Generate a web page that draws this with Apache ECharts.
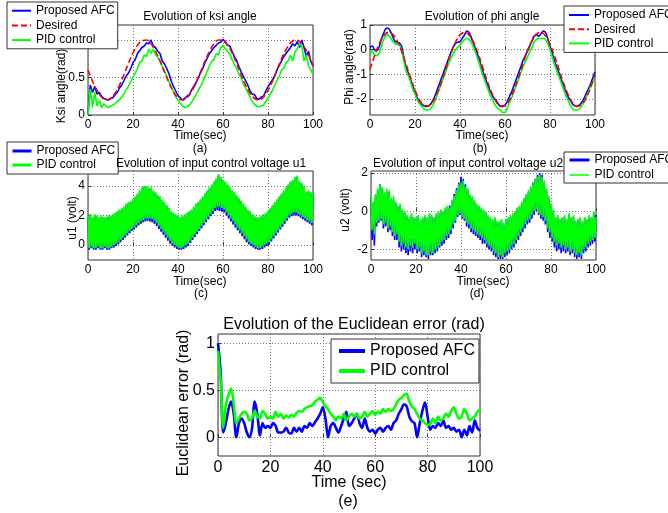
<!DOCTYPE html>
<html><head><meta charset="utf-8">
<script src="https://cdn.jsdelivr.net/npm/echarts@6/dist/echarts.min.js"></script>
<style>html,body{margin:0;padding:0;background:#fff}#c{width:668px;height:513px}</style>
</head><body><div id="c"></div>
<script>
// ---------- data ----------
const xTicks = [0, 20, 40, 60, 80, 100];
// (a) ksi angle, 1 s samples (desired every 2 s)
const ksiDesired = [0.6,0.45,0.33,0.24,0.2,0.22,0.29,0.4,0.54,0.69,0.83,0.93,0.99,1.0,0.95,0.85,0.72,0.57,0.43,0.31,0.23,0.2,0.23,0.31,0.43,0.57,0.72,0.85,0.95,1.0,0.99,0.93,0.83,0.69,0.54,0.4,0.29,0.22,0.2,0.24,0.33,0.45,0.6,0.75,0.87,0.96,1.0,0.98,0.91,0.8,0.66];
const ksiAFC = [0,0.4,0.3,0.38,0.28,0.3,0.25,0.22,0.21,0.2,
0.22,0.23,0.27,0.3,0.36,0.4,0.46,0.52,0.56,0.62,
0.7,0.74,0.82,0.86,0.9,0.92,0.96,0.95,1.0,0.92,
0.9,0.85,0.82,0.72,0.68,0.62,0.55,0.45,0.38,0.32,
0.26,0.23,0.2,0.22,0.25,0.27,0.33,0.38,0.43,0.5,
0.56,0.62,0.7,0.76,0.82,0.86,0.9,0.93,0.96,0.97,
1.01,0.98,0.93,0.92,0.85,0.78,0.73,0.65,0.58,0.52,
0.46,0.4,0.32,0.28,0.27,0.22,0.21,0.24,0.25,0.32,
0.38,0.42,0.47,0.52,0.6,0.66,0.72,0.78,0.82,0.86,
0.9,0.95,0.92,0.98,0.9,1.0,0.9,0.78,0.85,0.72,0.65];
const ksiPID = [0,0.35,0.1,0.3,0.12,0.2,0.1,0.15,0.12,0.1,
0.12,0.13,0.15,0.18,0.2,0.24,0.28,0.34,0.38,0.44,
0.5,0.56,0.62,0.7,0.72,0.8,0.78,0.88,0.82,0.88,
0.8,0.77,0.72,0.65,0.58,0.52,0.44,0.38,0.3,0.24,
0.2,0.16,0.12,0.1,0.11,0.13,0.17,0.22,0.27,0.33,
0.38,0.44,0.52,0.58,0.66,0.72,0.74,0.82,0.8,0.9,
0.93,0.88,0.85,0.82,0.74,0.68,0.62,0.55,0.5,0.42,
0.36,0.3,0.24,0.18,0.14,0.12,0.11,0.12,0.13,0.18,
0.22,0.28,0.33,0.4,0.46,0.52,0.6,0.62,0.7,0.72,
0.8,0.72,0.84,0.88,0.95,0.92,0.72,0.8,0.66,0.6,0.55];
// (b) phi angle
const phiDesired = [-0.8,-0.25,0.22,0.55,0.7,0.63,0.37,-0.05,-0.58,-1.13,-1.64,-2.04,-2.26,-2.28,-2.1,-1.73,-1.24,-0.69,-0.15,0.3,0.6,0.7,0.6,0.3,-0.15,-0.69,-1.24,-1.73,-2.1,-2.28,-2.26,-2.04,-1.64,-1.13,-0.58,-0.05,0.37,0.63,0.7,0.55,0.22,-0.25,-0.8,-1.35,-1.82,-2.15,-2.3,-2.23,-1.97,-1.55,-1.02];
const phiAFC = [0.1,0.15,0.0,-0.05,0.1,0.4,0.65,0.85,0.88,0.75,
0.55,0.35,0.3,0.28,0.15,-0.3,-0.7,-0.95,-1.2,-1.5,
-1.7,-1.95,-2.1,-2.2,-2.28,-2.3,-2.28,-2.2,-2.05,-1.85,
-1.6,-1.35,-1.1,-0.85,-0.6,-0.35,-0.1,0.1,0.25,0.3,
0.32,0.45,0.6,0.75,0.7,0.5,0.25,0.0,-0.25,-0.55,
-0.85,-1.1,-1.35,-1.6,-1.8,-1.95,-2.05,-2.2,-2.3,-2.3,
-2.25,-2.1,-1.9,-1.7,-1.45,-1.2,-0.95,-0.7,-0.45,-0.25,
-0.05,0.15,0.35,0.55,0.6,0.55,0.65,0.75,0.7,0.45,
0.15,-0.15,-0.45,-0.7,-0.95,-1.2,-1.45,-1.7,-1.9,-2.05,
-2.2,-2.27,-2.3,-2.25,-2.15,-2.0,-1.8,-1.6,-1.4,-1.15,-0.9];
const phiPID = [-0.2,-0.05,-0.2,-0.25,-0.15,0.1,0.4,0.55,0.6,0.5,
0.35,0.25,0.22,0.2,0.0,-0.45,-0.85,-1.05,-1.3,-1.6,
-1.8,-2.05,-2.2,-2.3,-2.4,-2.45,-2.45,-2.38,-2.25,-2.05,
-1.8,-1.55,-1.3,-1.05,-0.8,-0.55,-0.35,-0.15,0.0,0.1,
0.2,0.3,0.4,0.45,0.42,0.3,0.1,-0.15,-0.4,-0.7,
-1.0,-1.25,-1.5,-1.75,-1.95,-2.15,-2.3,-2.4,-2.45,-2.55,
-2.55,-2.35,-2.15,-1.95,-1.7,-1.45,-1.2,-0.95,-0.7,-0.5,
-0.3,-0.1,0.1,0.3,0.42,0.45,0.45,0.45,0.4,0.25,
0.0,-0.3,-0.6,-0.85,-1.1,-1.35,-1.6,-1.85,-2.05,-2.25,
-2.4,-2.45,-2.45,-2.4,-2.3,-2.15,-1.95,-1.75,-1.5,-1.3,-1.1];
// (c) u1: oscillation peaks at t = 0,1,...,100 and troughs at t = 0.5,...,99.5
const u1PIDPeaks = [2.0,2.1,1.9,2.1,2.0,1.9,2.0,1.9,1.9,2.0,
2.0,2.1,2.2,2.3,2.4,2.5,2.6,2.8,2.9,3.0,
3.1,3.3,3.5,3.7,3.9,4.0,4.0,3.9,3.9,3.7,
3.6,3.4,3.3,3.1,2.9,2.7,2.5,2.3,2.2,2.1,
2.0,1.9,2.0,2.1,2.2,2.3,2.4,2.6,2.8,2.9,
3.1,3.3,3.5,3.7,3.9,4.1,4.3,4.5,4.8,4.6,
4.4,4.3,4.1,3.9,3.7,3.6,3.4,3.2,3.0,2.8,
2.6,2.4,2.3,2.1,2.0,1.9,1.9,2.0,2.1,2.2,
2.3,2.5,2.7,2.9,3.1,3.3,3.5,3.7,3.9,4.1,
4.3,4.4,4.6,4.7,4.3,4.2,4.0,3.6,3.7,3.6,3.5];
const u1PIDTroughs = [-0.2,-0.1,-0.2,-0.2,-0.1,-0.2,-0.2,-0.1,-0.2,-0.2,
-0.1,0.0,0.1,0.2,0.35,0.5,0.65,0.8,0.95,1.1,
1.2,1.35,1.5,1.6,1.7,1.8,1.8,1.8,1.75,1.65,
1.5,1.3,1.1,0.9,0.7,0.5,0.3,0.1,0.0,-0.1,
-0.2,-0.2,-0.1,0.0,0.1,0.3,0.5,0.7,0.9,1.1,
1.3,1.5,1.7,1.9,2.1,2.3,2.5,2.6,2.6,2.5,
2.4,2.2,2.0,1.8,1.6,1.4,1.2,1.0,0.8,0.6,
0.4,0.2,0.1,0.0,-0.1,-0.2,-0.2,-0.1,0.0,0.1,
0.2,0.4,0.6,0.8,1.0,1.2,1.4,1.6,1.8,2.0,
2.1,2.2,2.2,2.1,2.0,1.9,1.8,1.7,1.6,1.5];
const u1AFCPeaks = [1.9,2.0,1.8,2.0,1.9,1.8,1.9,1.8,1.8,1.9,
1.9,2.0,2.1,2.2,2.3,2.4,2.5,2.7,2.8,2.9,
3.0,3.2,3.4,3.6,3.8,3.9,3.9,3.8,3.8,3.6,
3.5,3.3,3.2,3.0,2.8,2.6,2.4,2.2,2.1,2.0,
1.9,1.8,1.9,2.0,2.1,2.2,2.3,2.5,2.7,2.8,
3.0,3.2,3.4,3.6,3.8,4.0,4.2,4.4,4.7,4.5,
4.3,4.2,4.0,3.8,3.6,3.5,3.3,3.1,2.9,2.7,
2.5,2.3,2.2,2.0,1.9,1.8,1.8,1.9,2.0,2.1,
2.2,2.4,2.6,2.8,3.0,3.2,3.4,3.6,3.8,4.0,
4.2,4.3,4.5,4.6,4.2,4.1,3.9,3.5,3.6,3.5,3.4];
const u1AFCTroughs = [-0.3,-0.2,-0.3,-0.3,-0.2,-0.3,-0.3,-0.2,-0.3,-0.3,
-0.2,-0.15,-0.05,0.05,0.2,0.35,0.5,0.65,0.8,0.95,
1.05,1.2,1.35,1.45,1.55,1.6,1.65,1.6,1.55,1.45,
1.3,1.1,0.9,0.7,0.5,0.3,0.1,-0.05,-0.15,-0.25,
-0.3,-0.3,-0.25,-0.15,-0.05,0.15,0.35,0.55,0.75,0.95,
1.15,1.35,1.55,1.75,1.95,2.1,2.3,2.35,2.3,2.25,
2.2,2.0,1.8,1.6,1.4,1.2,1.0,0.8,0.6,0.4,
0.2,0.05,-0.05,-0.15,-0.25,-0.3,-0.3,-0.25,-0.15,-0.05,
0.05,0.25,0.45,0.65,0.85,1.05,1.25,1.45,1.65,1.85,
1.95,2.0,2.0,1.95,1.85,1.75,1.65,1.55,1.45,1.35];
// (d) u2
const u2PIDPeaks = [0.8,0.5,0.9,1.2,1.4,1.3,1.0,1.2,1.1,0.7,
0.8,0.5,0.3,0.4,0.1,0.0,-0.2,-0.3,-0.1,-0.3,
-0.3,-0.2,-0.4,-0.3,-0.2,-0.3,-0.1,-0.2,-0.3,-0.1,
0.0,0.1,0.0,0.2,0.3,0.2,0.6,0.8,1.1,1.4,
1.5,1.6,1.3,1.2,0.9,0.8,0.6,0.4,0.3,0.2,
0.1,0.0,-0.2,-0.3,-0.4,-0.3,-0.5,-0.5,-0.4,-0.6,
-0.4,-0.3,-0.2,-0.1,0.0,0.2,0.3,0.5,0.7,0.9,
1.1,1.3,1.5,1.7,1.8,1.9,1.8,1.6,1.2,0.8,
0.4,0.1,-0.3,-0.2,-0.4,-0.3,-0.2,-0.4,-0.1,-0.3,
-0.2,-0.5,-0.4,-0.3,-0.5,-0.3,-0.4,-0.2,-0.3,0.0,-0.3];
const u2PIDTroughs = [-1.0,-1.2,-0.6,-0.5,-0.4,-0.7,-0.6,-0.9,-0.8,-1.1,
-1.3,-1.2,-1.6,-1.8,-1.7,-1.9,-2.0,-1.8,-1.9,-1.7,
-2.0,-1.9,-2.2,-2.1,-2.3,-2.3,-2.1,-2.2,-2.0,-1.9,
-1.8,-1.6,-1.5,-1.3,-1.2,-1.0,-0.7,-0.5,-0.2,-0.1,
-0.3,-0.4,-0.6,-0.7,-0.9,-1.0,-1.1,-1.2,-1.3,-1.4,
-1.5,-1.7,-1.8,-1.9,-2.1,-2.2,-2.4,-2.3,-2.4,-2.2,
-2.1,-2.0,-1.8,-1.7,-1.5,-1.3,-1.1,-0.9,-0.7,-0.5,
-0.4,-0.2,0.0,0.1,-0.1,-0.2,-0.3,-0.5,-0.9,-1.1,
-1.4,-1.6,-1.8,-1.7,-1.9,-1.8,-2.0,-1.9,-2.1,-2.0,
-2.2,-2.3,-2.2,-2.3,-2.0,-1.9,-1.7,-1.6,-1.5,-1.4];
const u2AFCPeaks = [0.7,0.4,0.8,1.1,1.4,1.2,0.9,1.0,1.0,0.6,
0.6,0.4,0.2,0.3,0.0,-0.1,-0.3,-0.4,-0.2,-0.4,
-0.4,-0.3,-0.5,-0.4,-0.3,-0.4,-0.2,-0.3,-0.4,-0.2,
-0.1,0.0,-0.1,0.1,0.2,0.3,0.5,0.9,1.2,1.5,
1.8,1.7,1.4,1.1,0.8,0.7,0.5,0.3,0.2,0.1,
0.0,-0.1,-0.3,-0.4,-0.5,-0.4,-0.6,-0.6,-0.5,-0.7,
-0.5,-0.4,-0.3,-0.2,-0.1,0.1,0.2,0.4,0.6,0.8,
1.0,1.2,1.5,1.7,1.9,2.0,1.9,1.5,1.1,0.7,
0.3,0.0,-0.4,-0.3,-0.5,-0.4,-0.3,-0.5,-0.2,-0.4,
-0.3,-0.6,-0.5,-0.4,-0.6,-0.4,-0.5,-0.3,-0.4,-0.1,-0.2];
const u2AFCTroughs = [-1.5,-1.8,-0.8,-0.6,-0.5,-0.9,-0.8,-1.1,-1.0,-1.3,
-1.5,-1.5,-1.9,-2.1,-2.0,-2.2,-2.3,-2.1,-2.2,-2.0,
-2.2,-2.1,-2.4,-2.3,-2.4,-2.5,-2.3,-2.3,-2.2,-2.1,
-1.9,-1.8,-1.7,-1.5,-1.4,-1.2,-0.9,-0.6,-0.3,-0.2,
-0.4,-0.5,-0.8,-0.9,-1.1,-1.2,-1.3,-1.4,-1.5,-1.7,
-1.7,-1.9,-2.0,-2.1,-2.3,-2.4,-2.5,-2.5,-2.5,-2.4,
-2.3,-2.2,-2.0,-1.9,-1.7,-1.5,-1.3,-1.1,-0.9,-0.7,
-0.6,-0.4,-0.2,0.0,-0.2,-0.4,-0.5,-0.7,-1.1,-1.4,
-1.6,-1.9,-2.1,-2.0,-2.2,-2.1,-2.2,-2.1,-2.3,-2.2,
-2.4,-2.5,-2.4,-2.5,-2.2,-2.1,-1.9,-1.8,-1.7,-1.6];
// (e) Euclidean error
const errAFC = [1.0,0.7,0.05,0.15,0.3,0.38,0.25,0.0,0.15,0.2,
0.15,0.05,0.0,0.1,0.38,0.25,0.02,0.15,0.1,0.12,
0.1,0.15,0.12,0.05,0.05,0.06,0.1,0.05,0.04,0.1,
0.06,0.1,0.06,0.12,0.1,0.15,0.12,0.16,0.2,0.25,
0.32,0.2,0.0,0.12,0.15,0.1,0.05,0.12,0.2,0.27,
0.12,0.15,0.2,0.25,0.15,0.1,0.2,0.1,0.06,0.08,
0.04,0.08,0.1,0.06,0.1,0.12,0.08,0.15,0.18,0.25,
0.3,0.35,0.33,0.22,0.17,0.15,0.0,0.15,0.28,0.37,
0.22,0.08,0.12,0.1,0.15,0.12,0.18,0.1,0.12,0.08,
0.1,0.06,0.08,0.0,0.08,0.02,0.12,0.05,0.18,0.1,0.07];
const errPID = [0.92,0.6,0.1,0.35,0.45,0.52,0.35,0.15,0.2,0.25,
0.27,0.25,0.18,0.2,0.28,0.22,0.2,0.28,0.25,0.2,
0.22,0.2,0.27,0.22,0.25,0.2,0.23,0.21,0.24,0.22,
0.26,0.28,0.27,0.3,0.32,0.33,0.34,0.38,0.4,0.42,
0.38,0.33,0.3,0.25,0.22,0.18,0.22,0.2,0.25,0.18,
0.22,0.25,0.22,0.25,0.2,0.22,0.27,0.22,0.25,0.28,
0.24,0.27,0.25,0.3,0.27,0.3,0.28,0.3,0.35,0.4,
0.42,0.45,0.46,0.38,0.33,0.3,0.25,0.2,0.18,0.15,
0.13,0.14,0.2,0.15,0.22,0.18,0.2,0.25,0.22,0.28,
0.32,0.25,0.2,0.22,0.3,0.25,0.18,0.2,0.22,0.27,0.3];

// ---------- helpers ----------
const FF = "'Liberation Sans', Arial, Helvetica, sans-serif";
const BLUE = '#0000ff', GREEN = '#00ff00', RED = '#ff0000', FRAME = '#333333';
const xy = (vals, step) => vals.map((v, i) => [i * step, v]);
const zig = (peaks, troughs) => {
  const out = [];
  peaks.forEach((p, i) => { out.push([i, p]); if (i < troughs.length) out.push([i + 0.5, troughs[i]]); });
  return out;
};
const grids = [
  {left: 88, top: 25, width: 225, height: 90},
  {left: 370, top: 25, width: 225, height: 90},
  {left: 88, top: 171, width: 225, height: 89},
  {left: 371, top: 171, width: 225, height: 89},
  {left: 218, top: 334, width: 262, height: 122}
].map(g => Object.assign({show: true, borderColor: FRAME, borderWidth: 1, backgroundColor: 'rgba(0,0,0,0)', containLabel: false, outerBoundsMode: 'none'}, g));

const split = {show: true, lineStyle: {type: [1, 2], color: '#777', width: 1}};
function xAx(gi, fs) {
  return {type: 'value', gridIndex: gi, min: 0, max: 100, interval: 20,
    axisLine: {show: false}, axisTick: {show: true, inside: true, length: 3, lineStyle: {color: FRAME}},
    axisLabel: {fontSize: fs, color: '#000', fontFamily: FF, margin: 4},
    splitLine: split};
}
function yAx(gi, min, max, ticks, fs) {
  return {type: 'value', gridIndex: gi, min: min, max: max,
    axisLine: {show: false}, axisTick: {show: true, inside: true, length: 3, customValues: ticks, lineStyle: {color: FRAME}},
    axisLabel: {fontSize: fs, color: '#000', fontFamily: FF, margin: 3, customValues: ticks},
    splitLine: split};
}
function ln(name, data, gi, color, width, dash, smooth) {
  return {type: 'line', name: name, data: data, xAxisIndex: gi, yAxisIndex: gi, symbol: 'none',
    smooth: smooth || false, animation: false, clip: true,
    itemStyle: {color: color},
    lineStyle: {color: color, width: width, type: dash || 'solid'}};
}
const txt = (s, x, y, fs, rot) => ({type: 'text', x: x, y: y, rotation: rot || 0, silent: true,
  style: {text: s, fill: '#000', fontSize: fs, fontFamily: FF, align: 'center', verticalAlign: 'middle', textAlign: 'center', textVerticalAlign: 'middle'}});
const ttl = (s, cx, top, fs) => ({text: s, left: cx, top: top, textAlign: 'center', padding: 0,
  textStyle: {fontSize: fs, fontWeight: 'normal', color: '#000', fontFamily: FF}});
const lgd = (names, left, top, pad, gap, iw, ih, fs, widths) => ({
  orient: 'vertical', left: left, top: top, padding: pad, itemGap: gap, itemWidth: iw, itemHeight: ih,
  backgroundColor: '#fff', borderColor: FRAME, borderWidth: 1, borderRadius: 0, selectedMode: false,
  itemStyle: {opacity: 0, borderWidth: 0},
  textStyle: {fontSize: fs, color: '#000', fontFamily: FF, lineHeight: ih},
  data: names.map((n, i) => ({name: n, lineStyle: {width: widths[i]}, itemStyle: {opacity: 0, borderWidth: 0}}))
});

const option = {
  animation: false,
  backgroundColor: '#fff',
  title: [
    ttl('Evolution of ksi angle', 200, 11, 12),
    ttl('Evolution of phi angle', 482, 11, 12),
    ttl('Evolution of input control voltage u1', 211, 158, 12),
    ttl('Evolution of input control voltage u2', 468, 158, 12),
    ttl('Evolution of the Euclidean error (rad)', 354, 317, 16)
  ],
  legend: [
    lgd(['Proposed AFC', 'Desired', 'PID control'], 7, 2, [2.7, 3, 2.7, 4], 2.7, 19, 12, 12, [2, 2, 2]),
    lgd(['Proposed AFC', 'Desired', 'PID control'], 564, 6, [3, 3, 3, 4], 2.2, 20, 12, 12, [2, 2, 2]),
    lgd(['Proposed AFC', 'PID control'], 7, 142, [3, 3, 3, 4], 2, 19, 12, 12, [3, 3]),
    lgd(['Proposed AFC', 'PID control'], 564, 152, [2, 3, 2, 4], 3, 20, 12, 12, [3, 1.5]),
    lgd(['Proposed AFC', 'PID control'], 331, 339, [4, 4, 4, 6], 4, 26, 16, 16, [4, 4])
  ],
  grid: grids,
  xAxis: [xAx(0, 12), xAx(1, 12), xAx(2, 12), xAx(3, 12), xAx(4, 16)],
  yAxis: [
    yAx(0, 0, 1.2, [0, 0.5, 1], 12),
    yAx(1, -2.65, 1, [-2, -1, 0, 1], 12),
    yAx(2, -1, 5, [0, 2, 4], 12),
    yAx(3, -2.55, 2.1, [-2, 0, 2], 12),
    yAx(4, -0.2, 1.1, [0, 0.5, 1], 16)
  ],
  series: [
    ln('Proposed AFC', xy(ksiAFC, 1), 0, BLUE, 1.6),
    ln('PID control', xy(ksiPID, 1), 0, GREEN, 1.6),
    ln('Desired', xy(ksiDesired, 2), 0, RED, 1.6, [6, 3], 0.4),
    ln('Proposed AFC', xy(phiAFC, 1), 1, BLUE, 1.6, null, 0.3),
    ln('PID control', xy(phiPID, 1), 1, GREEN, 1.6, null, 0.3),
    ln('Desired', xy(phiDesired, 2), 1, RED, 1.6, [6, 3], 0.4),
    ln('Proposed AFC', zig(u1AFCPeaks, u1AFCTroughs), 2, BLUE, 1.8),
    ln('PID control', zig(u1PIDPeaks, u1PIDTroughs), 2, GREEN, 1.8),
    ln('Proposed AFC', zig(u2AFCPeaks, u2AFCTroughs), 3, BLUE, 1.6),
    ln('PID control', zig(u2PIDPeaks, u2PIDTroughs), 3, GREEN, 1.6),
    ln('Proposed AFC', xy(errAFC, 1), 4, BLUE, 2.6, null, 0.3),
    ln('PID control', xy(errPID, 1), 4, GREEN, 2.6, null, 0.3)
  ],
  graphic: [
    txt('Ksi angle(rad)', 62, 86, 12, Math.PI / 2),
    txt('Phi angle(rad)', 350, 67, 12, Math.PI / 2),
    txt('u1 (volt)', 73, 218, 12, Math.PI / 2),
    txt('u2 (volt)', 345.5, 210, 12, Math.PI / 2),
    txt('Euclidean error (rad)', 184, 403, 16, Math.PI / 2),
    txt('Time(sec)', 200, 135.5, 12),
    txt('Time(sec)', 482, 135.5, 12),
    txt('Time(sec)', 200, 281.5, 12),
    txt('Time(sec)', 483, 281.5, 12),
    txt('Time (sec)', 349, 483, 16),
    txt('(a)', 200, 149, 12),
    txt('(b)', 480, 149, 12),
    txt('(c)', 201, 294, 12),
    txt('(d)', 477, 294, 12),
    txt('(e)', 348, 502, 16)
  ]
};
const chart = echarts.init(document.getElementById('c'), null, {renderer: 'canvas'});
chart.setOption(option);
</script>
</body></html>
